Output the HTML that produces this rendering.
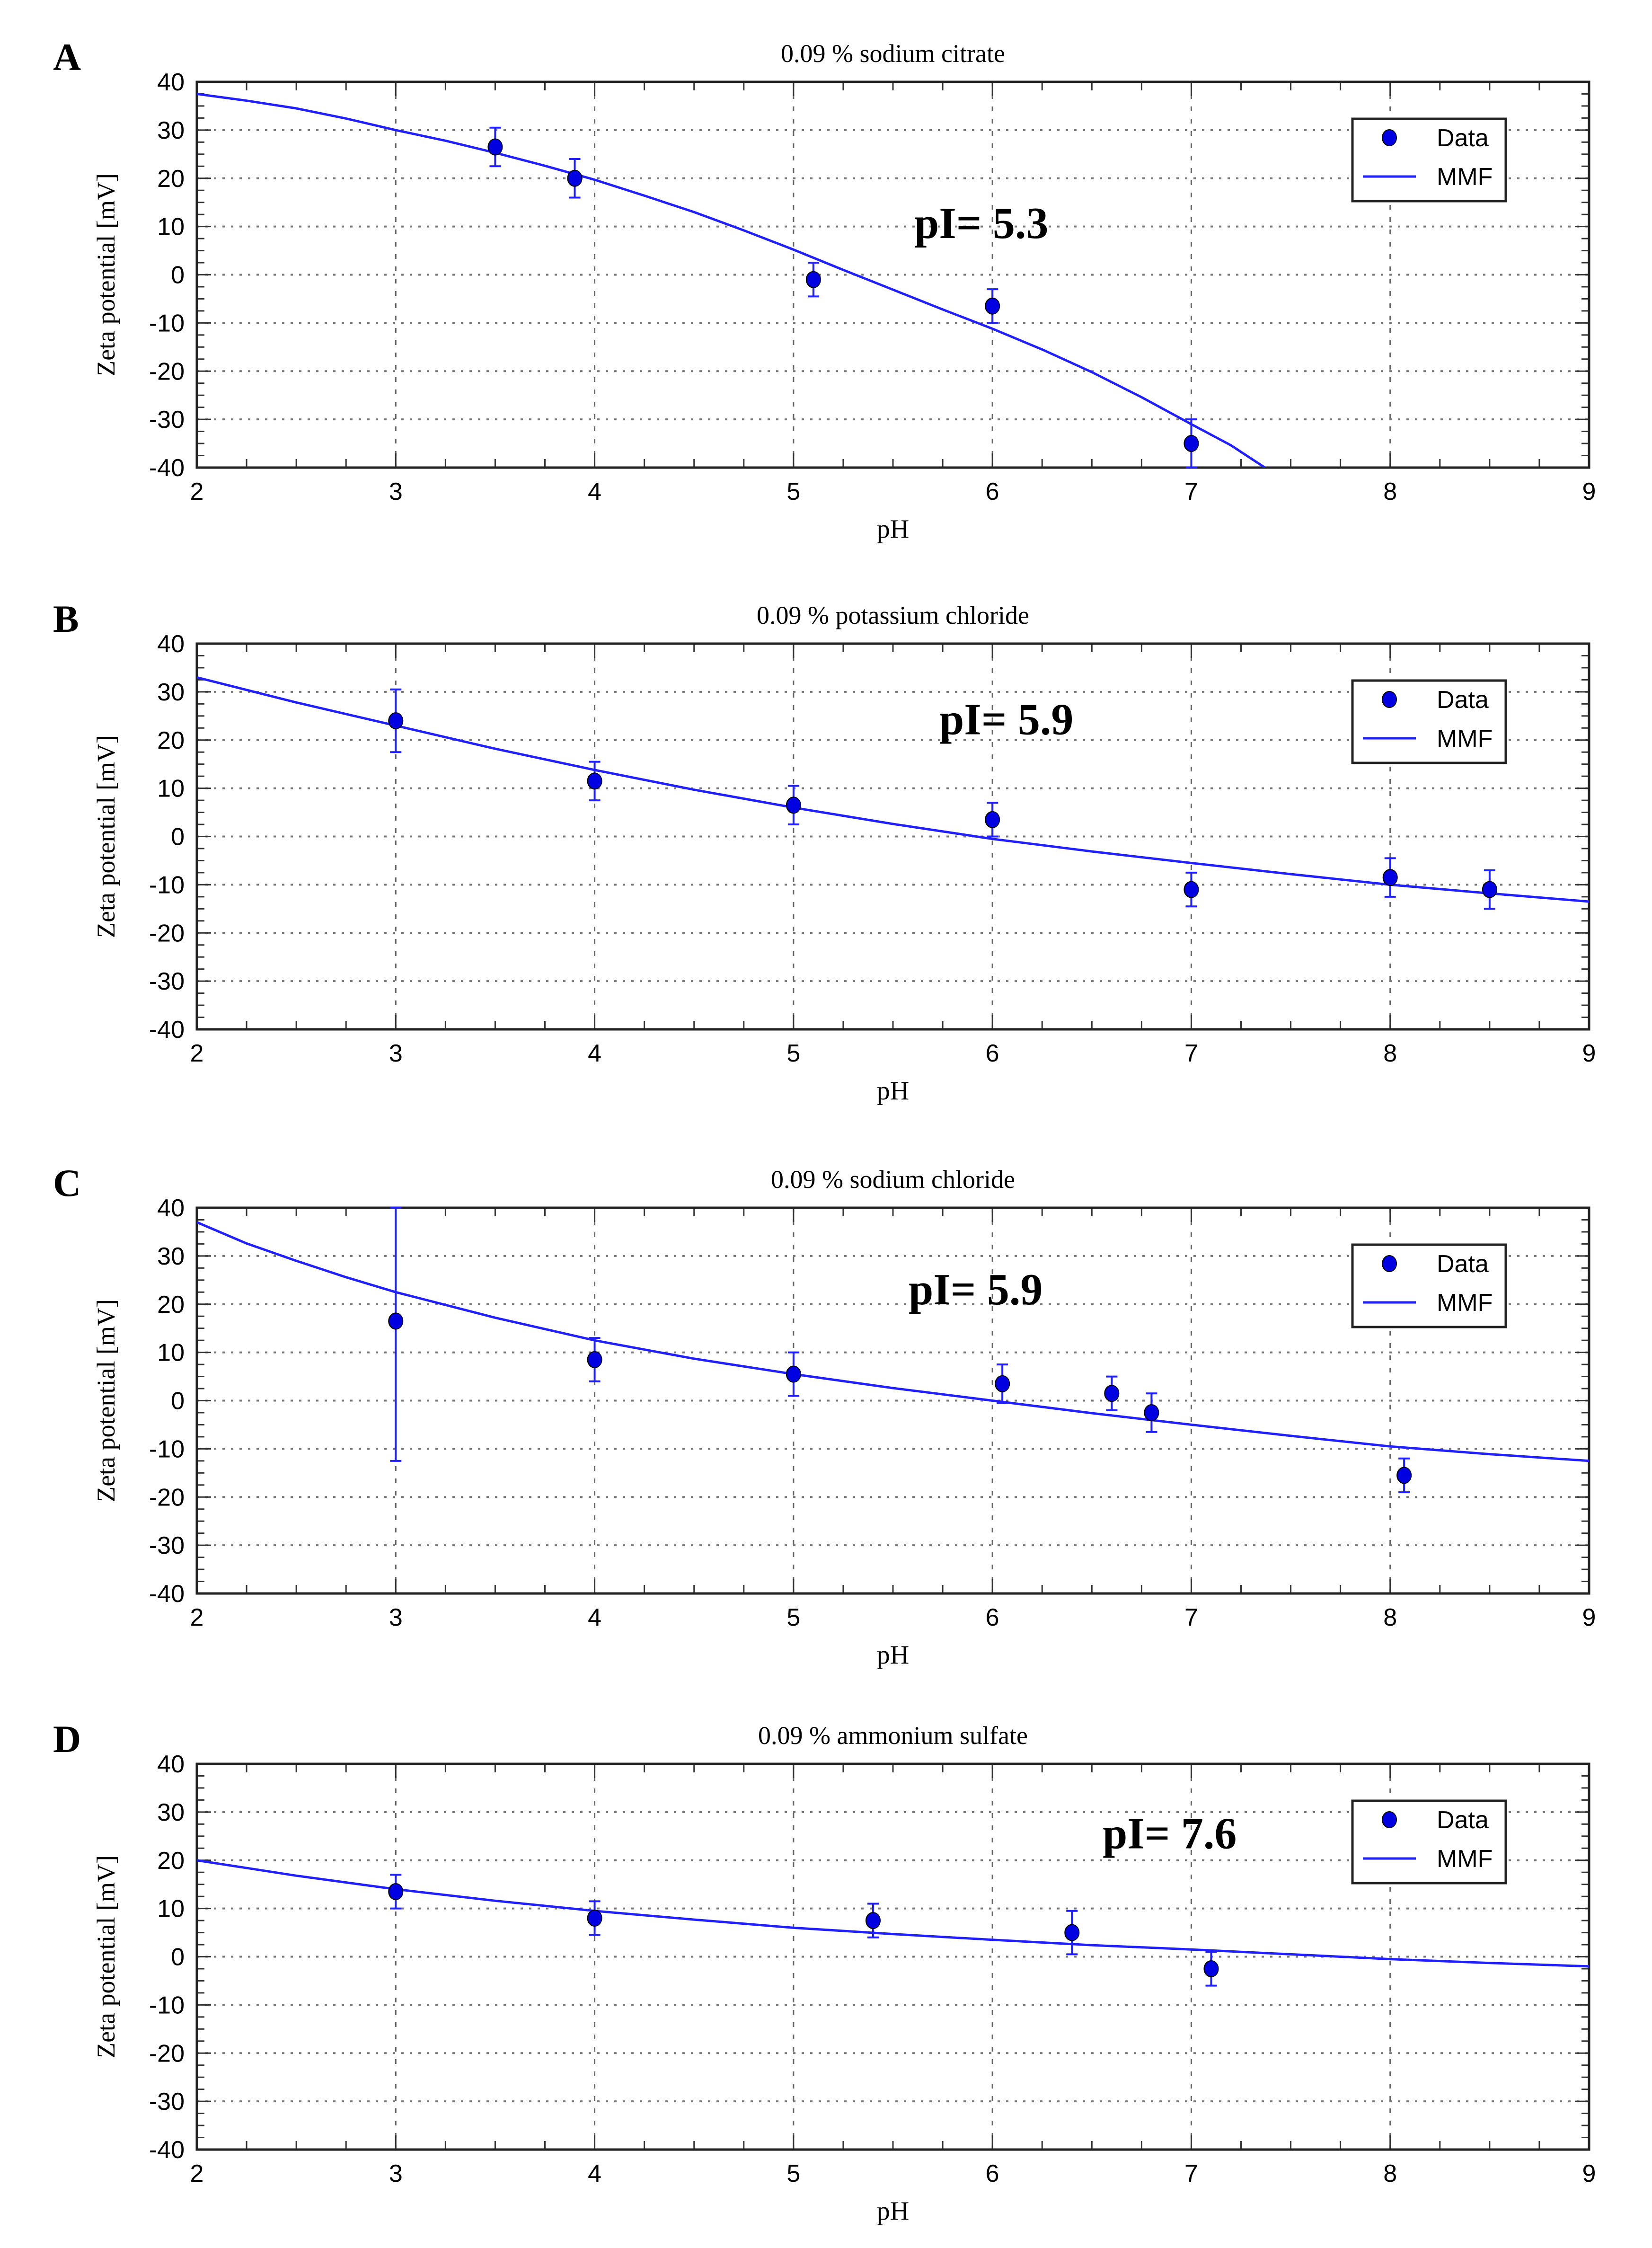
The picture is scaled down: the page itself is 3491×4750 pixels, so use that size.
<!DOCTYPE html>
<html><head><meta charset="utf-8"><style>
html,body{margin:0;padding:0;background:#fff;}
svg{display:block;}
</style></head><body>
<svg id="fig" xmlns="http://www.w3.org/2000/svg" width="3491" height="4750" viewBox="0 0 3491 4750">
<rect width="3491" height="4750" fill="#fff"/>
</svg>
<script>
// Panel A: 0.09 % sodium citrate
const phA = [3.5, 3.9, 5.1, 6.0, 7.0];
const zetaA = [26.5, 20, -1, -6.5, -35];
const errA = [4, 4, 3.5, 3.5, 5];
const fitPhA = [2, 2.25, 2.5, 2.75, 3, 3.25, 3.5, 3.75, 4, 4.25, 4.5, 4.75, 5, 5.25, 5.5, 5.75, 6, 6.25, 6.5, 6.75, 7, 7.2, 7.37];
const fitZetaA = [37.5, 36.1, 34.5, 32.4, 30, 27.8, 25.3, 22.6, 19.7, 16.4, 13, 9.2, 5.2, 1, -3.1, -7.2, -11.2, -15.5, -20.2, -25.4, -31, -35.4, -40];
// Panel B: 0.09 % potassium chloride
const phB = [3, 4, 5, 6, 7, 8, 8.5];
const zetaB = [24, 11.5, 6.5, 3.5, -11, -8.5, -11];
const errB = [6.5, 4, 4, 3.5, 3.5, 4, 4];
const fitPhB = [2, 2.5, 3, 3.5, 4, 4.5, 5, 5.5, 6, 6.5, 7, 7.5, 8, 8.5, 9];
const fitZetaB = [33, 27.8, 23, 18.2, 13.8, 9.7, 6, 2.6, -0.5, -3.1, -5.5, -7.8, -10, -11.8, -13.5];
// Panel C: 0.09 % sodium chloride
const phC = [3, 4, 5, 6.05, 6.6, 6.8, 8.07];
const zetaC = [16.5, 8.5, 5.5, 3.5, 1.5, -2.5, -15.5];
const errC = [29, 4.5, 4.5, 4, 3.5, 4, 3.5];
const fitPhC = [2, 2.25, 2.5, 2.75, 3, 3.5, 4, 4.5, 5, 5.5, 6, 6.5, 7, 7.5, 8, 8.5, 9];
const fitZetaC = [37, 32.6, 29, 25.6, 22.5, 17.2, 12.5, 8.7, 5.5, 2.6, 0, -2.6, -5, -7.3, -9.5, -11.1, -12.5];
// Panel D: 0.09 % ammonium sulfate
const phD = [3, 4, 5.4, 6.4, 7.1];
const zetaD = [13.5, 8, 7.5, 5, -2.5];
const errD = [3.5, 3.5, 3.5, 4.5, 3.5];
const fitPhD = [2, 2.5, 3, 3.5, 4, 4.5, 5, 5.5, 6, 6.5, 7, 7.5, 8, 8.5, 9];
const fitZetaD = [20, 16.8, 14, 11.6, 9.5, 7.7, 6, 4.7, 3.5, 2.4, 1.5, 0.5, -0.5, -1.3, -2];

const xTicks = [2, 3, 4, 5, 6, 7, 8, 9];
const yTicks = [40, 30, 20, 10, 0, -10, -20, -30, -40];
const titles = ["0.09 % sodium citrate", "0.09 % potassium chloride", "0.09 % sodium chloride", "0.09 % ammonium sulfate"];
const letters = ["A", "B", "C", "D"];
const pIs = ["pI= 5.3", "pI= 5.9", "pI= 5.9", "pI= 7.6"];

const NS = "http://www.w3.org/2000/svg";
const svg = document.getElementById('fig');
function mk(tag, attrs, parent, text) {
  const e = document.createElementNS(NS, tag);
  for (const k in attrs) e.setAttribute(k, attrs[k]);
  if (text !== undefined) e.textContent = text;
  parent.appendChild(e);
  return e;
}
const X0 = 416, X1 = 3358, H = 815;
const tops = [173, 1360, 2552, 3727];
const pIpos = [[1932, 7.6], [1985, 21.2], [1920, 20], [2330, 22.5]];
const panels = [
  [phA, zetaA, errA, fitPhA, fitZetaA],
  [phB, zetaB, errB, fitPhB, fitZetaB],
  [phC, zetaC, errC, fitPhC, fitZetaC],
  [phD, zetaD, errD, fitPhD, fitZetaD]
];
const BLUE = "#2020ff";

panels.forEach((p, i) => {
  const T = tops[i], B = T + H;
  const sx = v => X0 + (v - 2) / 7 * (X1 - X0);
  const sy = v => T + (40 - v) / 80 * H;
  const g = mk('g', {}, svg);
  
  

  const lt = mk('text', {x: 112, y: T - 25, 'font-family': 'Liberation Serif, serif', 'font-weight': 'bold', 'font-size': 82, 'text-anchor': 'start'}, g, letters[i]);
  
  
  const tt = mk('text', {x: (X0 + X1) / 2, y: T - 42, 'font-family': 'Liberation Serif, serif', 'font-size': 54, 'text-anchor': 'middle'}, g, titles[i]);
  
  

  xTicks.slice(1, -1).forEach(v => {
    const l = mk('line', {x1: sx(v), x2: sx(v), y1: T, y2: B, stroke: '#666', 'stroke-width': 3, 'stroke-dasharray': '10 16'}, g);
    
    
  });
  yTicks.slice(1, -1).forEach(v => {
    const l = mk('line', {x1: X0, x2: X1, y1: sy(v), y2: sy(v), stroke: '#777', 'stroke-width': 4, 'stroke-dasharray': '5 13'}, g);
    
    
  });
  for (let v = 2; v <= 9.001; v += 0.25) {
    const major = Math.abs(v - Math.round(v)) < 1e-6;
    const len = major ? 30 : 18;
    mk('line', {x1: sx(v), x2: sx(v), y1: B, y2: B - len, stroke: '#333', 'stroke-width': 3}, g);
    mk('line', {x1: sx(v), x2: sx(v), y1: T, y2: T + len, stroke: '#333', 'stroke-width': 3}, g);
  }
  for (let v = -40; v <= 40.001; v += 2.5) {
    const major = Math.abs(v / 10 - Math.round(v / 10)) < 1e-6;
    const len = major ? 30 : 16;
    mk('line', {x1: X0, x2: X0 + len, y1: sy(v), y2: sy(v), stroke: '#333', 'stroke-width': 3}, g);
    mk('line', {x1: X1, x2: X1 - len, y1: sy(v), y2: sy(v), stroke: '#333', 'stroke-width': 3}, g);
  }
  const frame = mk('rect', {x: X0, y: T, width: X1 - X0, height: H, fill: 'none', stroke: '#222', 'stroke-width': 5}, g);
  
  

  xTicks.forEach(v => {
    const t = mk('text', {x: sx(v), y: B + 68, 'font-family': 'Liberation Sans, sans-serif', 'font-size': 52, 'text-anchor': 'middle'}, g, String(v));
    
    
  });
  yTicks.forEach(v => {
    const t = mk('text', {x: 390, y: sy(v) + 18, 'font-family': 'Liberation Sans, sans-serif', 'font-size': 52, 'text-anchor': 'end'}, g, String(v));
    
    
  });
  const xl = mk('text', {x: (X0 + X1) / 2, y: B + 148, 'font-family': 'Liberation Serif, serif', 'font-size': 56, 'text-anchor': 'middle'}, g, 'pH');
  
  
  const yl = mk('text', {x: 0, y: 0, transform: `translate(242 ${T + H / 2}) rotate(-90)`, 'font-family': 'Liberation Serif, serif', 'font-size': 54, 'text-anchor': 'middle'}, g, 'Zeta potential [mV]');
  
  

  const cp = mk('clipPath', {id: 'clip' + i}, g);
  mk('rect', {x: X0, y: T, width: X1 - X0, height: H}, cp);
  const d = p[3].map((v, k) => (k ? 'L' : 'M') + sx(v).toFixed(1) + ' ' + sy(p[4][k]).toFixed(1)).join(' ');
  const fit = mk('path', {d: d, fill: 'none', stroke: BLUE, 'stroke-width': 5, 'stroke-linejoin': 'round', 'clip-path': `url(#clip${i})`}, g);
  
  

  p[0].forEach((v, k) => {
    const x = sx(v), y = sy(p[1][k]);
    const yt = Math.max(T, sy(p[1][k] + p[2][k])), yb = Math.min(B, sy(p[1][k] - p[2][k]));
    const eb = mk('path', {d: `M${x} ${yt} L${x} ${yb} M${x - 12} ${yt} L${x + 12} ${yt} M${x - 12} ${yb} L${x + 12} ${yb}`, stroke: BLUE, 'stroke-width': 4, fill: 'none'}, g);
    
    
    const c = mk('ellipse', {cx: x, cy: y, rx: 15, ry: 17, fill: '#0000e0', stroke: '#000', 'stroke-width': 2}, g);
    
    
  });

  const pi = mk('text', {x: pIpos[i][0], y: sy(pIpos[i][1]), 'font-family': 'Liberation Serif, serif', 'font-weight': 'bold', 'font-size': 94, 'text-anchor': 'start'}, g, pIs[i]);
  
  

  const lg = mk('g', {}, g);
  
  
  const LX = 2858, LY = T + 78;
  mk('rect', {x: LX, y: LY, width: 324, height: 174, fill: '#fff', stroke: '#222', 'stroke-width': 5}, lg);
  const le1 = mk('ellipse', {cx: LX + 78, cy: LY + 40, rx: 15, ry: 17, fill: '#0000e0', stroke: '#000', 'stroke-width': 2}, lg);
  
  
  mk('text', {x: LX + 178, y: LY + 58, 'font-family': 'Liberation Sans, sans-serif', 'font-size': 52}, lg, 'Data');
  const le2 = mk('line', {x1: LX + 22, x2: LX + 134, y1: LY + 122, y2: LY + 122, stroke: BLUE, 'stroke-width': 5}, lg);
  
  
  mk('text', {x: LX + 178, y: LY + 140, 'font-family': 'Liberation Sans, sans-serif', 'font-size': 52}, lg, 'MMF');
});
</script>
</body></html>
